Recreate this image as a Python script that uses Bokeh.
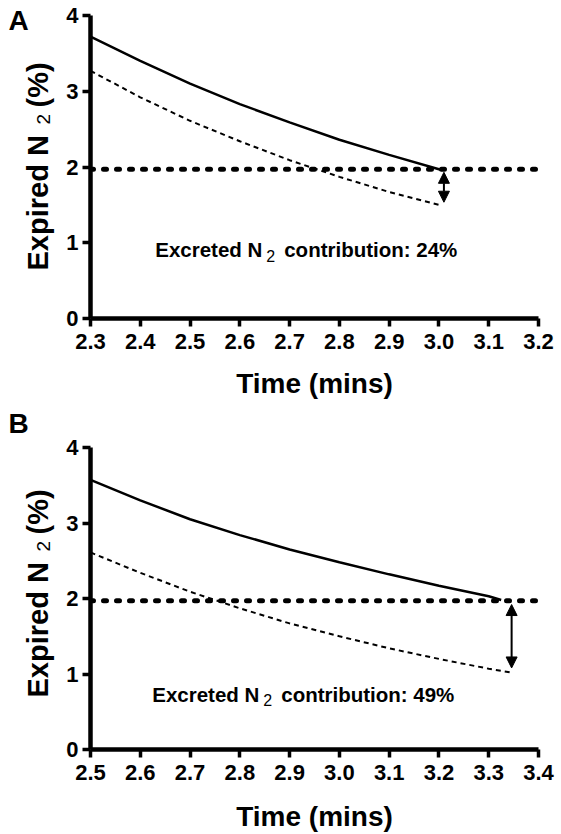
import math
from bokeh.plotting import figure
from bokeh.layouts import column, row
from bokeh.models import FixedTicker, NumeralTickFormatter, Span, Arrow, NormalHead, Label
from bokeh.embed import file_html
from bokeh.resources import INLINE

FONT = "Liberation Sans"

# ---------------- Panel A data ----------------
time_a = [2.30, 2.40, 2.50, 2.60, 2.70, 2.80, 2.90, 3.00, 3.006]
total_a = [3.72, 3.40, 3.10, 2.83, 2.59, 2.36, 2.16, 1.97, 1.96]
time_a_dash = [2.30, 2.40, 2.50, 2.60, 2.70, 2.80, 2.90, 3.00, 3.004]
washout_a = [3.27, 2.92, 2.61, 2.34, 2.09, 1.87, 1.67, 1.50, 1.49]
threshold_a = 1.97
arrow_x_a = 3.01
arrow_top_a = 1.93
arrow_bottom_a = 1.535
contribution_a = "24%"
xticks_a = [2.3, 2.4, 2.5, 2.6, 2.7, 2.8, 2.9, 3.0, 3.1, 3.2]

# ---------------- Panel B data ----------------
time_b = [2.50, 2.60, 2.70, 2.80, 2.90, 3.00, 3.10, 3.20, 3.30, 3.325]
total_b = [3.57, 3.30, 3.05, 2.84, 2.65, 2.48, 2.32, 2.17, 2.03, 1.98]
time_b_dash = [2.50, 2.60, 2.70, 2.80, 2.90, 3.00, 3.10, 3.20, 3.30, 3.345]
washout_b = [2.61, 2.34, 2.09, 1.87, 1.67, 1.50, 1.34, 1.20, 1.07, 1.02]
threshold_b = 1.97
arrow_x_b = 3.346
arrow_top_b = 1.92
arrow_bottom_b = 1.08
contribution_b = "49%"
xticks_b = [2.5, 2.6, 2.7, 2.8, 2.9, 3.0, 3.1, 3.2, 3.3, 3.4]

yticks = [0, 1, 2, 3, 4]

Y_TITLE = ["Expired N", "2", "(%)"]
X_TITLE = "Time (mins)"


def lab(p, text, x, y, size, bold=True, units="screen", angle=0.0,
        align="left", x_off=0, y_off=0):
    p.add_layout(Label(x=x, y=y, x_units=units, y_units=units, text=text,
                       text_font=FONT, text_font_size=f"{size}px",
                       text_font_style="bold" if bold else "normal",
                       text_color="black", angle=angle, text_align=align,
                       text_baseline="middle", x_offset=x_off, y_offset=y_off))


def title_strip(letter, height, letter_sy, ytitle_sy):
    """Narrow canvas on the left holding the panel letter and the y-axis title."""
    s = figure(width=58, height=height, min_border=0,
               min_border_left=0, min_border_right=0, min_border_top=0, min_border_bottom=0,
               x_range=(0, 1), y_range=(0, 1),
               x_axis_type=None, y_axis_type=None, output_backend="svg",
               toolbar_location=None, background_fill_color="white",
               border_fill_color="white")
    s.outline_line_color = None
    lab(s, letter, 8, letter_sy, 28)
    lab(s, Y_TITLE[0], 37.5, ytitle_sy, 29, angle=math.pi / 2)
    lab(s, Y_TITLE[1], 43, ytitle_sy + 146, 19, bold=False, angle=math.pi / 2)
    lab(s, Y_TITLE[2], 37.5, ytitle_sy + 163, 29, angle=math.pi / 2)
    return s


def make_panel(time, total, time_dash, washout, threshold,
               ax_x, ax_top, ax_bot, contribution, xticks, text_x, text_y,
               frame_h, b_top, b_bottom, xlabel_standoff):
    p = figure(frame_width=448, frame_height=frame_h,
               x_range=(xticks[0], xticks[-1]), y_range=(yticks[0], yticks[-1]),
               min_border_left=32, min_border_right=23,
               min_border_top=b_top, min_border_bottom=b_bottom,
               output_backend="svg", toolbar_location=None,
               background_fill_color="white", border_fill_color="white")
    p.outline_line_color = None
    p.xgrid.visible = False
    p.ygrid.visible = False

    for ax in (p.xaxis[0], p.yaxis[0]):
        ax.axis_line_width = 4.5
        ax.axis_line_color = "black"
        ax.major_tick_line_width = 3.5
        ax.major_tick_line_color = "black"
        ax.major_tick_in = 0
        ax.major_tick_out = 8
        ax.minor_tick_line_color = None
        ax.major_label_text_font = FONT
        ax.major_label_text_font_style = "bold"
        ax.major_label_text_font_size = "22px"
        ax.major_label_text_color = "black"
    p.xaxis.ticker = FixedTicker(ticks=xticks)
    p.xaxis.formatter = NumeralTickFormatter(format="0.0")
    p.xaxis.major_label_standoff = 7
    p.xaxis.axis_label = X_TITLE
    p.xaxis.axis_label_text_font = FONT
    p.xaxis.axis_label_text_font_style = "bold"
    p.xaxis.axis_label_text_font_size = "28px"
    p.xaxis.axis_label_text_color = "black"
    p.xaxis.axis_label_standoff = xlabel_standoff
    p.yaxis.ticker = FixedTicker(ticks=yticks)
    p.yaxis.major_label_standoff = 4

    # threshold line
    p.add_layout(Span(location=threshold, dimension="width", line_color="black",
                      line_width=5, line_dash="3 10", line_cap="round"))
    # curves
    p.line(time, total, line_color="black", line_width=2.5)
    p.line(time_dash, washout, line_color="black", line_width=2, line_dash="5 4")
    # double arrow
    p.add_layout(Arrow(x_start=ax_x, y_start=ax_top, x_end=ax_x, y_end=ax_bot,
                       line_width=2, line_color="black",
                       start=NormalHead(size=11, fill_color="black", line_color="black"),
                       end=NormalHead(size=11, fill_color="black", line_color="black")))
    # annotation text
    lab(p, "Excreted N", text_x, text_y, 20.5, units="data")
    lab(p, "2", text_x, text_y, 16, bold=False, units="data", x_off=111, y_off=-6)
    lab(p, "contribution: " + contribution, text_x, text_y, 20.5, units="data", x_off=129)
    return p


pa = make_panel(time_a, total_a, time_a_dash, washout_a, threshold_a,
                arrow_x_a, arrow_top_a, arrow_bottom_a, contribution_a, xticks_a,
                2.43, 0.91, 303, 15, 85, 16)
sa = title_strip("A", 403, 383, 133)

pb = make_panel(time_b, total_b, time_b_dash, washout_b, threshold_b,
                arrow_x_b, arrow_top_b, arrow_bottom_b, contribution_b, xticks_b,
                2.624, 0.73, 302, 44, 85, 18)
sb = title_strip("B", 431, 411, 137)

layout = row(column(sa, sb, spacing=0), column(pa, pb, spacing=0), spacing=0)
open("out.html", "w").write(file_html(layout, INLINE))
